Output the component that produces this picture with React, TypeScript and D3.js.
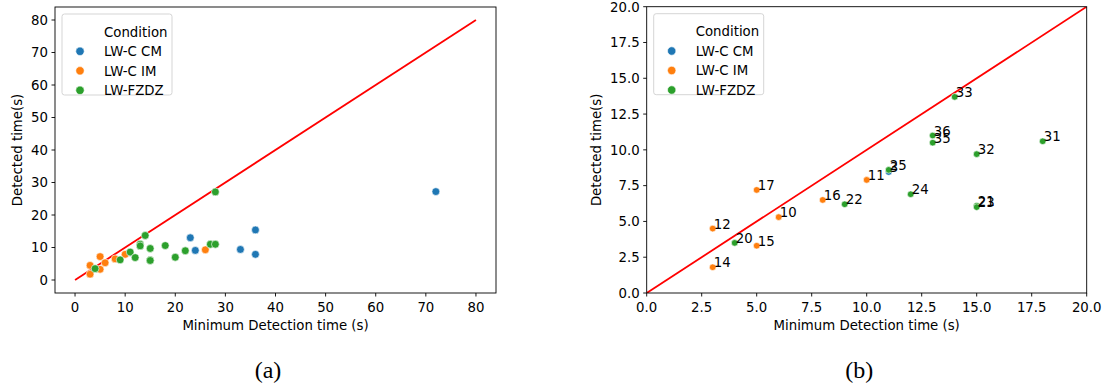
import React from 'react';
import * as d3 from 'd3';

// participants per condition: minimum detection time (x), detected time (y), id
const cmX = [23, 24, 33, 36, 36, 72, 11];
const cmY = [13.0, 9.1, 9.4, 15.4, 7.9, 27.2, 8.45];
const cmId = ['1', '2', '4', '5', '6', '7', '3'];

const imX = [3, 3, 5, 5, 6, 8, 10, 26];
const imY = [1.8, 4.5, 7.2, 3.3, 5.3, 6.5, 7.9, 9.3];
const imId = ['14', '12', '17', '15', '10', '16', '11', '13'];

const fzX = [4, 9, 11, 12, 13, 13, 14, 15, 15, 15, 18, 20, 22, 27, 28, 28];
const fzY = [3.5, 6.2, 8.6, 6.9, 11.0, 10.5, 13.7, 6.1, 6.0, 9.7, 10.6, 7.0, 9.0, 11.0, 11.0, 27.1];
const fzId = ['20', '22', '25', '24', '36', '35', '33', '21', '23', '32', '31', '26', '27', '28', '29', '30'];

const conditions = ['LW-C CM', 'LW-C IM', 'LW-FZDZ'];
const colors = ['#1f77b4', '#ff7f0e', '#2ca02c'];

const leftTicks = [0, 10, 20, 30, 40, 50, 60, 70, 80];
const rightTicks = [0, 2.5, 5, 7.5, 10, 12.5, 15, 17.5, 20];

const points = [
  ...cmX.map((x, i) => ({ x, y: cmY[i], id: cmId[i], c: 0 })),
  ...imX.map((x, i) => ({ x, y: imY[i], id: imId[i], c: 1 })),
  ...fzX.map((x, i) => ({ x, y: fzY[i], id: fzId[i], c: 2 })),
];

const font = '"DejaVu Sans", sans-serif';
const fs = 13.3;

type PanelProps = {
  left: number;
  top: number;
  width: number;
  height: number;
  domain: [number, number];
  ticks: number[];
  fmt: (d: number) => string;
  lineEnd: number;
  labels: boolean;
  r: number;
  ylabGap: number;
  caption: string;
  id: string;
};

const Panel = ({ left, top, width, height, domain, ticks, fmt, lineEnd, labels, r, ylabGap, caption, id }: PanelProps) => {
  const x = d3.scaleLinear().domain(domain).range([left, left + width]);
  const y = d3.scaleLinear().domain(domain).range([top + height, top]);
  const line = d3.line<number>().x(d => x(d)).y(d => y(d));
  // only what falls inside the zoomed window
  const shown = points.filter(p => p.x >= domain[0] && p.x < domain[1] && p.y >= domain[0] && p.y < domain[1]);
  const lg = { x: left + 7, y: top + 7 };

  return (
    <g>
      <defs>
        <clipPath id={id}>
          <rect x={left} y={top} width={width} height={height} />
        </clipPath>
      </defs>
      <g clipPath={`url(#${id})`}>
        <path d={line([0, lineEnd]) || ''} stroke="#ff0000" strokeWidth={1.8} fill="none" />
        {shown.map((p, i) => (
          <circle key={i} cx={x(p.x)} cy={y(p.y)} r={r} fill={colors[p.c]} stroke="#fff" strokeWidth={0.6} />
        ))}
      </g>
      {labels && shown.map((p, i) => (
        <text key={i} x={x(p.x) + 1} y={y(p.y)} fontSize={fs} fontFamily={font} fill="#000">{p.id}</text>
      ))}
      <rect x={left} y={top} width={width} height={height} fill="none" stroke="#000" strokeWidth={0.9} />
      {ticks.map(t => (
        <g key={'x' + t}>
          <line x1={x(t)} x2={x(t)} y1={top + height} y2={top + height + 3.5} stroke="#000" strokeWidth={0.9} />
          <text x={x(t)} y={top + height + 18.7} textAnchor="middle" fontSize={fs} fontFamily={font}>{fmt(t)}</text>
        </g>
      ))}
      {ticks.map(t => (
        <g key={'y' + t}>
          <line x1={left - 3.5} x2={left} y1={y(t)} y2={y(t)} stroke="#000" strokeWidth={0.9} />
          <text x={left - 7} y={y(t) + 4.8} textAnchor="end" fontSize={fs} fontFamily={font}>{fmt(t)}</text>
        </g>
      ))}
      <text x={left + width / 2} y={top + height + 37} textAnchor="middle" fontSize={fs} fontFamily={font}>Minimum Detection time (s)</text>
      <text transform={`translate(${left - ylabGap},${top + height / 2}) rotate(-90)`} textAnchor="middle" fontSize={fs} fontFamily={font}>Detected time(s)</text>

      <rect x={lg.x} y={lg.y} width={110} height={81} rx={2.5} fill="#fff" fillOpacity={0.8} stroke="#d5d5d5" strokeWidth={1} />
      <text x={lg.x + 42} y={lg.y + 22.5} fontSize={fs} fontFamily={font}>Condition</text>
      {conditions.map((c, i) => (
        <g key={c}>
          <circle cx={lg.x + 18} cy={lg.y + 37.3 + i * 19.5} r={4.2} fill={colors[i]} stroke="#fff" strokeWidth={0.6} />
          <text x={lg.x + 42} y={lg.y + 42 + i * 19.5} fontSize={fs} fontFamily={font}>{c}</text>
        </g>
      ))}
      <text x={left + width / 2 - 7.5} y={378} textAnchor="middle" fontSize={24} fontFamily='"Liberation Serif", "DejaVu Serif", serif'>{caption}</text>
    </g>
  );
};

export default function App() {
  return (
    <svg width={1103} height={389} style={{ position: 'absolute', left: 0, top: 0, background: '#fff' }}>
      <Panel left={55} top={7} width={441} height={286} domain={[-4, 84]} ticks={leftTicks}
        fmt={d => String(d)} lineEnd={80} labels={false} r={3.9} ylabGap={33.5} caption="(a)" id="clipA" />
      <Panel left={646.7} top={6.7} width={440} height={286.3} domain={[0, 20]} ticks={rightTicks}
        fmt={d => d.toFixed(1)} lineEnd={20} labels={true} r={3.3} ylabGap={46} caption="(b)" id="clipB" />
    </svg>
  );
}
